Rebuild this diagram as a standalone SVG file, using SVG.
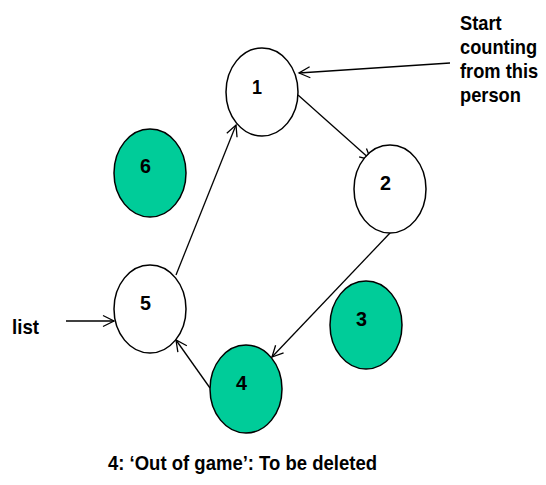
<svg xmlns="http://www.w3.org/2000/svg" width="546" height="485" viewBox="0 0 546 485">
<defs>
<style>
.n ellipse{stroke:#000;stroke-width:1.5}
.w{fill:#fff}
.g{fill:#00CC99}
text{font-family:"Liberation Sans",Arial,sans-serif;fill:#000}
.d{font-size:21px;font-weight:bold}
.t{font-size:21px;font-weight:bold}
.c line{stroke:#000;stroke-width:1.3;marker-end:url(#a)}
</style>
<marker id="a" markerUnits="userSpaceOnUse" markerWidth="14" markerHeight="14" viewBox="0 0 14 14" refX="12" refY="7" orient="auto">
<path d="M1,1.5 L12,7 L1,12.5" fill="none" stroke="#000" stroke-width="1.3"/>
</marker>
</defs>
<rect width="546" height="485" fill="#fff"/>
<g id="connectors" class="c">
<line x1="450" y1="63" x2="299" y2="73"/>
<line x1="298" y1="95" x2="371" y2="160"/>
<line x1="176" y1="275" x2="236" y2="125"/>
<line x1="390" y1="233" x2="272" y2="357"/>
<line x1="210" y1="388" x2="176" y2="340"/>
<line x1="66" y1="321" x2="114" y2="321"/>
</g>
<g id="node1" class="n"><ellipse class="w" cx="262" cy="92" rx="36" ry="44"/><text class="d" x="252" y="94" textLength="10" lengthAdjust="spacingAndGlyphs">1</text></g>
<g id="node2" class="n"><ellipse class="w" cx="390" cy="189" rx="36" ry="44"/><text class="d" x="380" y="190" textLength="11" lengthAdjust="spacingAndGlyphs">2</text></g>
<g id="node3" class="n"><ellipse class="g" cx="366" cy="325" rx="36" ry="44"/><text class="d" x="356" y="326" textLength="11" lengthAdjust="spacingAndGlyphs">3</text></g>
<g id="node4" class="n"><ellipse class="g" cx="246" cy="389" rx="36" ry="44"/><text class="d" x="236" y="390" textLength="11" lengthAdjust="spacingAndGlyphs">4</text></g>
<g id="node5" class="n"><ellipse class="w" cx="150" cy="309" rx="36" ry="44"/><text class="d" x="140" y="310" textLength="11" lengthAdjust="spacingAndGlyphs">5</text></g>
<g id="node6" class="n"><ellipse class="g" cx="150" cy="173" rx="36" ry="44"/><text class="d" x="140" y="173" textLength="11" lengthAdjust="spacingAndGlyphs">6</text></g>
<g id="labels">
<g transform="translate(460,0) scale(0.87,1)">
<text class="t" x="0" y="30">Start</text>
<text class="t" x="0" y="54">counting</text>
<text class="t" x="0" y="78">from this</text>
<text class="t" x="0" y="102">person</text>
</g>
<text class="t" x="12" y="334" textLength="27" lengthAdjust="spacingAndGlyphs">list</text>
<text class="t" x="108" y="470" textLength="269" lengthAdjust="spacingAndGlyphs">4: ‘Out of game’: To be deleted</text>
</g>
</svg>
